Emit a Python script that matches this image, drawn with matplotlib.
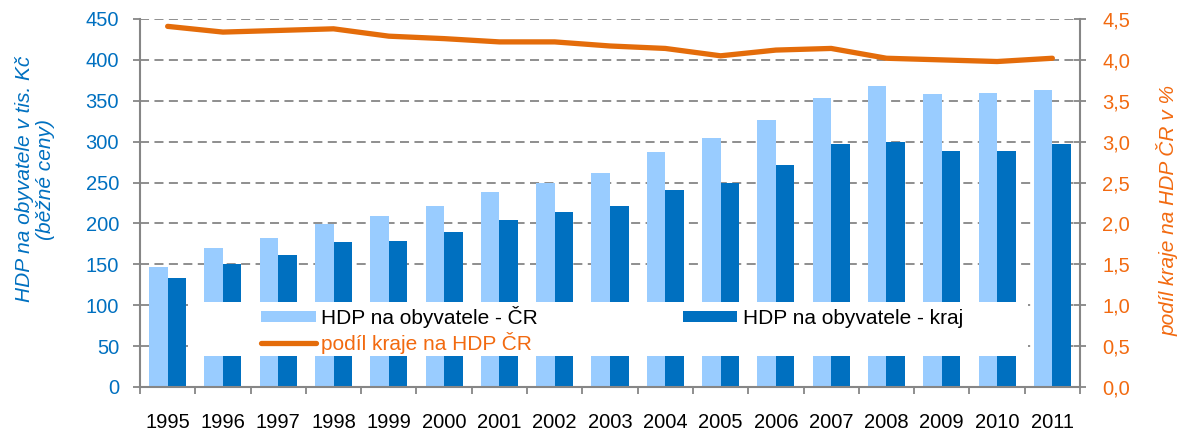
import numpy as np
import matplotlib
matplotlib.use("Agg")
import matplotlib.pyplot as plt
from matplotlib.patches import Rectangle

plt.rcParams['font.family'] = ['Liberation Sans', 'DejaVu Sans']

# data
years = [str(y) for y in range(1995, 2012)]
hdp_cr = [147, 170, 182, 199, 209, 221, 238, 250, 262, 287, 304, 327, 353, 368, 358, 360, 363]
hdp_kraj = [133, 150, 162, 177, 179, 189, 204, 214, 221, 241, 250, 272, 297, 299, 289, 289, 297]
podil = [4.41, 4.34, 4.36, 4.38, 4.29, 4.26, 4.22, 4.22, 4.17, 4.14, 4.05, 4.12, 4.14, 4.02, 4.00, 3.98, 4.02]

left_ticks = [0, 50, 100, 150, 200, 250, 300, 350, 400, 450]
right_ticks = [0, 0.5, 1.0, 1.5, 2.0, 2.5, 3.0, 3.5, 4.0, 4.5]
right_labels = ["0,0", "0,5", "1,0", "1,5", "2,0", "2,5", "3,0", "3,5", "4,0", "4,5"]

LIGHT = "#99CCFF"
DARK = "#0070C0"
ORANGE_LINE = "#E46C0A"
ORANGE_TXT = "#F26A10"
GRAY = "#868686"

fig = plt.figure(figsize=(11.82, 4.32), dpi=100, facecolor="white")
ax = fig.add_axes([140/1182, 45/432, 940/1182, 368/432])
ax2 = ax.twinx()

x = np.arange(len(years))
w = 0.335
b1 = ax.bar(x - w/2, hdp_cr, w, color=LIGHT, zorder=2)
b2 = ax.bar(x + w/2, hdp_kraj, w, color=DARK, zorder=2)

ax.set_xlim(-0.5, len(years) - 0.5)
ax.set_ylim(0, 450)
ax.set_yticks(left_ticks)
ax.yaxis.grid(True, linestyle=(0, (5, 3)), color=GRAY, linewidth=1.3)
ax.set_axisbelow(True)

ax.set_xticks(x)
ax.set_xticklabels(years, fontsize=14.5)
ax.set_xticks(np.arange(-0.5, len(years)), minor=True)
ax.tick_params(axis='x', which='major', length=0, pad=19)
ax.tick_params(axis='x', which='minor', length=5, width=1.3, color=GRAY, direction='out')
ax.tick_params(axis='y', length=5, width=1.3, color=GRAY, labelcolor=DARK, labelsize=14.5, pad=10)

for s in ['top', 'right']:
    ax.spines[s].set_visible(False)
for s in ['left', 'bottom']:
    ax.spines[s].set_color(GRAY)
    ax.spines[s].set_linewidth(1.5)

ax.set_ylabel("HDP na obyvatele v tis. Kč\n(běžné ceny)", fontsize=15, color=DARK,
              style='italic', linespacing=1.15)
ax.yaxis.set_label_coords(-0.09, 0.565)

# share line
ln, = ax2.plot(x, podil, color=ORANGE_LINE, lw=3.8, solid_capstyle='round', zorder=3)
ax2.set_ylim(0, 4.5)
ax2.set_yticks(right_ticks)
ax2.set_yticklabels(right_labels)
ax2.tick_params(axis='y', direction='inout', length=8, width=1.3, color=GRAY,
                labelcolor=ORANGE_TXT, labelsize=14.5, pad=12)
for s in ['top', 'left', 'bottom']:
    ax2.spines[s].set_visible(False)
ax2.spines['right'].set_color(GRAY)
ax2.spines['right'].set_linewidth(1.5)
ax2.set_ylabel("podíl kraje na HDP ČR v %", fontsize=15, color=ORANGE_TXT, style='italic')
ax2.yaxis.set_label_coords(1.081, 0.48)

# legend with white box
ax2.add_patch(Rectangle((0.051, 0.084), 0.894, 0.147, transform=ax2.transAxes,
                        facecolor="white", edgecolor="none", zorder=4))
leg = ax2.legend([b1, ln, b2],
                 ["HDP na obyvatele - ČR", "podíl kraje na HDP ČR", "HDP na obyvatele - kraj"],
                 ncol=2, loc='upper left', bbox_to_anchor=(0.118, 0.249),
                 frameon=False, fontsize=15, borderpad=0, handlelength=2.6,
                 handleheight=0.45, handletextpad=0.25, columnspacing=7.0,
                 labelspacing=0.2)
leg.set_zorder(5)
leg.get_texts()[1].set_color(ORANGE_TXT)

fig.savefig("out.png", dpi=100, facecolor="white")
